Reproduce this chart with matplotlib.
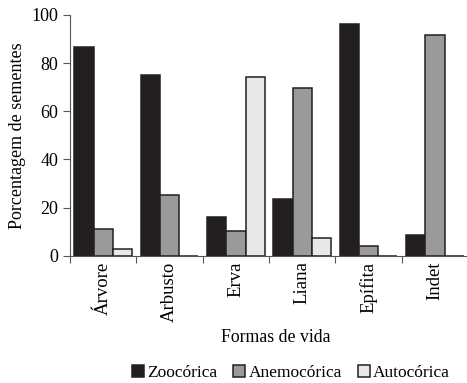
import matplotlib
matplotlib.use("Agg")
import matplotlib.pyplot as plt
import numpy as np

plt.rcParams['font.family'] = ['Liberation Serif', 'DejaVu Serif']

formas = ["Árvore", "Arbusto", "Erva", "Liana", "Epífita", "Indet"]
zoocorica = [86.8, 75.1, 16.0, 23.6, 96.1, 8.7]
anemocorica = [11.0, 25.2, 10.4, 69.5, 4.0, 91.8]
autocorica = [2.8, 0, 74.1, 7.4, 0, 0]

series = [("Zoocórica", zoocorica, "#231f20"),
          ("Anemocórica", anemocorica, "#9a9a9c"),
          ("Autocórica", autocorica, "#e8e8e9")]

fig = plt.figure(figsize=(4.67, 3.83), dpi=100)
ax = fig.add_axes([0.15, 0.332, 0.848, 0.629])

x = np.arange(len(formas)) + 0.5
w = 0.29
for i, (nome, vals, cor) in enumerate(series):
    ax.bar(x + (i - 1) * w, vals, width=w, color=cor, edgecolor="#231f20",
           linewidth=1.1, label=nome)

ax.set_xlim(0, 5.97)
ax.set_ylim(0, 100)
ax.set_yticks([0, 20, 40, 60, 80, 100])
ax.set_xticks(np.arange(0, 6), minor=False)
ax.set_xticklabels([])
ax.set_xticks(x, minor=True)
ax.set_xticklabels(formas, minor=True, rotation=90, fontsize=13.5)
ax.tick_params(axis="x", which="minor", length=0, pad=4)
ax.tick_params(axis="x", which="major", length=5, direction="out", color="#555555")
ax.tick_params(axis="y", length=5, labelsize=13, color="#555555")
for s in ["top", "right"]:
    ax.spines[s].set_visible(False)
for s in ["left", "bottom"]:
    ax.spines[s].set_color("#555555")

ax.set_ylabel("Porcentagem de sementes", fontsize=13)
ax.set_xlabel("Formas de vida", fontsize=12.8, va="center")
ax.xaxis.set_label_coords(0.52, -0.341)

fig.legend(loc="center", bbox_to_anchor=(0.623, 1 - 373 / 383), ncol=3, frameon=False,
           fontsize=12.5, handlelength=0.7, handleheight=0.7, handletextpad=0.2,
           columnspacing=0.9, borderaxespad=0)

fig.savefig("out.png", dpi=100)
